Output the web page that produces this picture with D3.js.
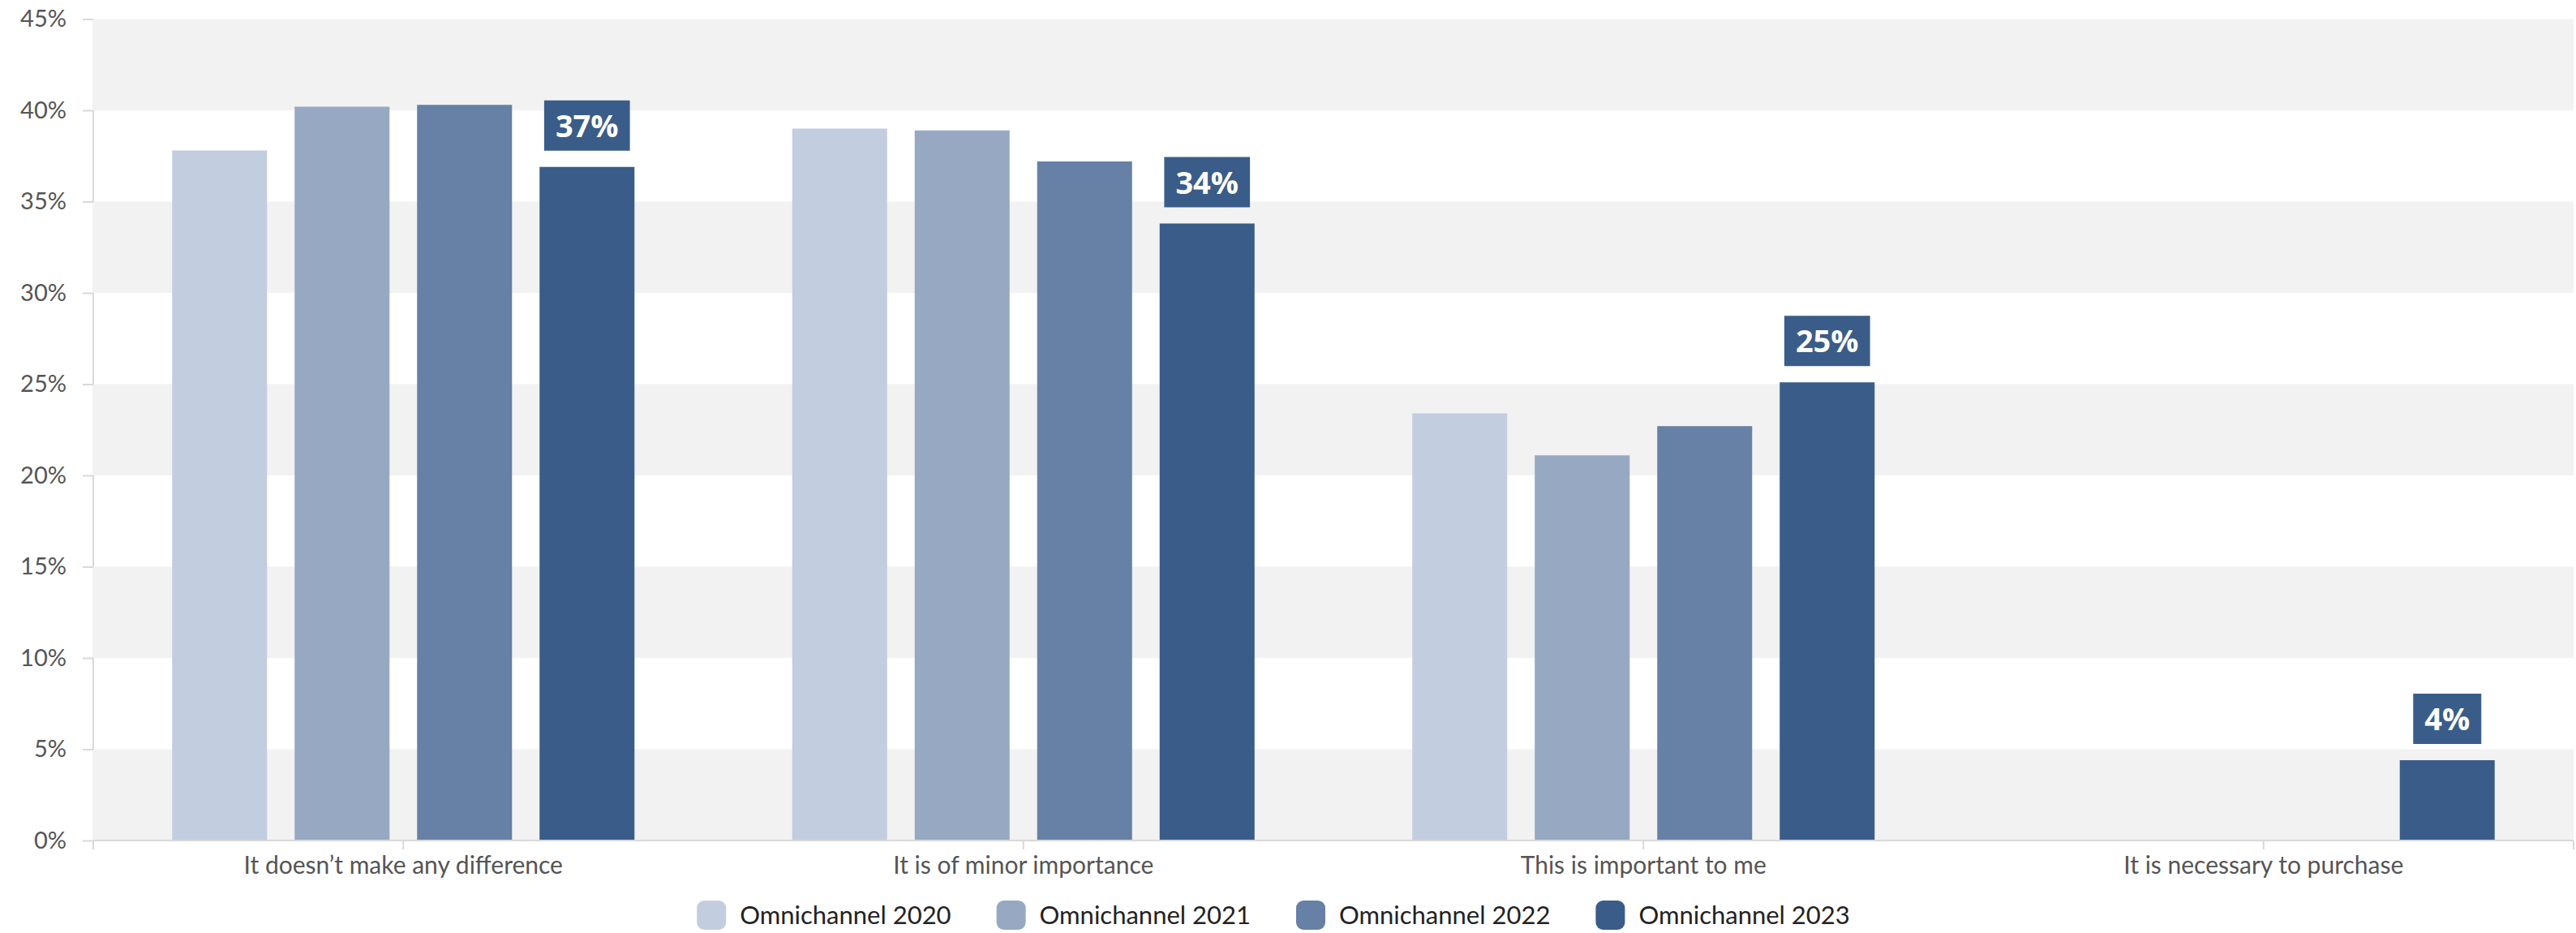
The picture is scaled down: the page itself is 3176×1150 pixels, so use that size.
<!DOCTYPE html>
<html>
<head>
<meta charset="utf-8">
<script src="https://cdn.jsdelivr.net/npm/d3@7"></script>
<style>
  html, body { margin: 0; padding: 0; background: #ffffff; }
  svg { display: block; }
</style>
</head>
<body>
<svg id="chart" width="3176" height="1150"></svg>
<script>
const categories = [
  "It doesn’t make any difference",
  "It is of minor importance",
  "This is important to me",
  "It is necessary to purchase"
];
const seriesNames = ["Omnichannel 2020", "Omnichannel 2021", "Omnichannel 2022", "Omnichannel 2023"];
const values2020 = [37.8, 39.0, 23.4, null];
const values2021 = [40.2, 38.9, 21.1, null];
const values2022 = [40.3, 37.2, 22.7, null];
const values2023 = [36.9, 33.8, 25.1, 4.4];
const labelled2023 = ["37%", "34%", "25%", "4%"];
const yTicks = [0, 5, 10, 15, 20, 25, 30, 35, 40, 45];
const colors = ["#c2cde0", "#97a8c3", "#6780a5", "#3a5c88"];

const seriesValues = [values2020, values2021, values2022, values2023];

const svg = d3.select("#chart");
const plotLeft = 115, plotRight = 3173, plotTop = 23.5, plotBottom = 1036;

const y = d3.scaleLinear().domain([0, 45]).range([plotBottom, plotTop]);
const x0 = d3.scaleBand().domain(categories).range([plotLeft, plotRight]).padding(0);
const groupW = x0.bandwidth() * 0.7456;
const x1 = d3.scaleBand().domain(seriesNames)
  .range([(x0.bandwidth() - groupW) / 2, (x0.bandwidth() + groupW) / 2])
  .paddingInner(0.225).paddingOuter(0);

// y axis line (behind bands)
svg.append("line").attr("x1", plotLeft).attr("x2", plotLeft).attr("y1", plotTop).attr("y2", plotBottom)
  .attr("stroke", "#d9d9d9").attr("stroke-width", 2);

// alternating bands
const bandStarts = d3.range(0, 45, 10);
svg.append("g").selectAll("rect").data(bandStarts).join("rect")
  .attr("x", plotLeft - 1).attr("width", plotRight - plotLeft + 1)
  .attr("y", d => y(d + 5)).attr("height", d => y(d) - y(d + 5))
  .attr("fill", "#f2f2f2");

// y axis ticks & labels
const yAxis = d3.axisLeft(y).tickValues(yTicks).tickFormat(d => d + "%").tickSize(13).tickPadding(20);
const gy = svg.append("g").attr("transform", `translate(${plotLeft},0)`).call(yAxis);
gy.select(".domain").remove();
gy.selectAll(".tick line").attr("stroke", "#d9d9d9").attr("stroke-width", 2);
gy.selectAll(".tick text").attr("fill", "#555").style("font-family", "Lato, sans-serif")
  .style("font-size", "29px").style("font-weight", 400);

// bars
const groups = svg.append("g").selectAll("g").data(categories).join("g")
  .attr("transform", d => `translate(${x0(d)},0)`);
groups.selectAll("rect").data((c, i) => seriesNames.map((s, j) => ({ s, j, v: seriesValues[j][i] })).filter(d => d.v != null))
  .join("rect")
  .attr("x", d => x1(d.s)).attr("width", x1.bandwidth())
  .attr("y", d => y(d.v)).attr("height", d => y(0) - y(d.v))
  .attr("fill", d => colors[d.j]);

// x axis
svg.append("line").attr("x1", plotLeft).attr("x2", plotRight).attr("y1", plotBottom).attr("y2", plotBottom)
  .attr("stroke", "#d9d9d9").attr("stroke-width", 2);
const xTickPos = [plotLeft, ...categories.map(c => x0(c) + x0.bandwidth() / 2), plotRight];
svg.append("g").selectAll("line").data(xTickPos).join("line")
  .attr("x1", d => d).attr("x2", d => d).attr("y1", plotBottom).attr("y2", plotBottom + 11)
  .attr("stroke", "#d9d9d9").attr("stroke-width", 2);
svg.append("g").selectAll("text").data(categories).join("text")
  .attr("x", c => x0(c) + x0.bandwidth() / 2).attr("y", 1077)
  .attr("text-anchor", "middle").attr("fill", "#555")
  .style("font-family", "Lato, sans-serif").style("font-size", "30px").style("font-weight", 400)
  .text(d => d);

// data labels for 2023
const lbl = svg.append("g").selectAll("g").data(categories).join("g");
lbl.each(function (c, i) {
  const v = values2023[i];
  const cx = x0(c) + x1("Omnichannel 2023") + x1.bandwidth() / 2;
  const g = d3.select(this);
  const t = g.append("text").attr("x", cx).attr("y", y(v) - 20 - 31 + 14)
    .attr("text-anchor", "middle").attr("fill", "#ffffff")
    .style("font-family", "'Open Sans', sans-serif").style("font-size", "38px").style("font-weight", 700)
    .text(labelled2023[i]);
  const w = t.node().getComputedTextLength();
  g.insert("rect", "text").attr("x", cx - w / 2 - 14).attr("width", w + 28)
    .attr("y", y(v) - 20 - 62).attr("height", 62).attr("fill", colors[3]);
});

// legend
const legend = svg.append("g");
const items = legend.selectAll("g").data(seriesNames).join("g");
items.append("rect").attr("width", 36).attr("height", 36).attr("rx", 9).attr("y", 1110)
  .attr("fill", (d, i) => colors[i]);
items.append("text").attr("x", 53).attr("y", 1128).attr("dy", "0.35em")
  .attr("fill", "#222").style("font-family", "Lato, sans-serif").style("font-size", "31px")
  .text(d => d);
let cursor = 0;
const offsets = [];
items.each(function () {
  const w = d3.select(this).select("text").node().getComputedTextLength();
  offsets.push(cursor);
  cursor += 53 + w + 56;
});
const total = cursor - 56;
const startX = 1570 - total / 2;
items.attr("transform", (d, i) => `translate(${startX + offsets[i]},0)`);
</script>
</body>
</html>
